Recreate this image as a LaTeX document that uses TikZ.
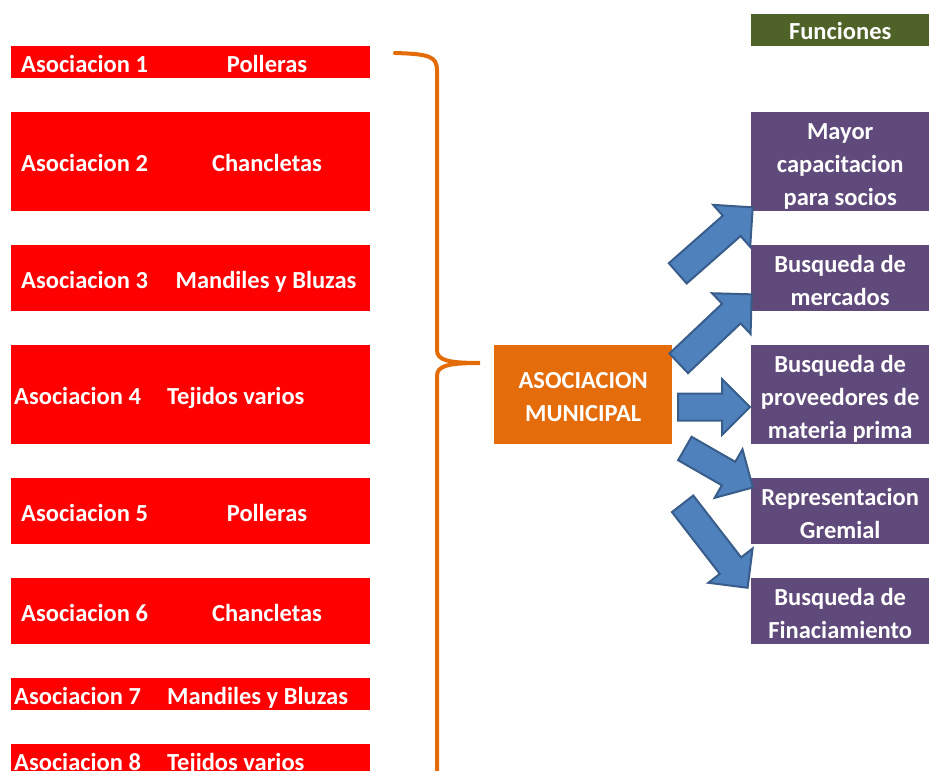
\documentclass[tikz,border=0pt]{standalone}
\usepackage{fontspec}
\setmainfont{Carlito}
\usepackage{xcolor}
\usetikzlibrary{shapes.arrows, calc, positioning}

\definecolor{celdared}{HTML}{FF0000}
\definecolor{municipal}{HTML}{E46C0A}
\definecolor{llave}{HTML}{E36C09}
\definecolor{funcion}{HTML}{604A7B}
\definecolor{titulo}{HTML}{4F6228}
\definecolor{flecha}{HTML}{4F81BD}
\definecolor{flechaborde}{HTML}{385D8A}

% flecha gruesa de una coordenada a otra
\newcommand{\flechagruesa}[2]{%
  \path let \p1=(#1), \p2=(#2), \n1={atan2(\y2-\y1,\x2-\x1)}, \n2={veclen(\x2-\x1,\y2-\y1)} in
    node[gruesa, anchor=tail, minimum height=\n2, rotate=\n1] at (#1) {};}

\begin{document}
\begin{tikzpicture}[
    x=1pt, y=-1pt,
    font=\fontsize{24.5}{33}\selectfont\bfseries,
    celda/.style={rectangle, anchor=north west, inner sep=0pt, minimum width=359pt, fill=celdared},
    texto/.style={text=white, inner sep=0pt, text height=20pt, text depth=0pt},
    func/.style={rectangle, anchor=north west, inner sep=0pt, minimum width=178pt, fill=funcion, text=white, align=center,
        text depth=0pt, text height=21pt},
    dos/.style={text height=54pt},
    tres/.style={text height=87pt},
    gruesa/.style={single arrow, draw=flechaborde, fill=flecha, line width=2pt, inner xsep=0pt, inner ysep=12.5pt,
        single arrow head extend=14.5pt, single arrow head indent=0pt},
    llavestyle/.style={draw=llave, line width=4pt, line cap=round}
]
    \clip (0,0) rectangle (929,771);

    % Asociaciones
    \node [celda, minimum height=32pt] (a1) at (11,46) {};
    \node [texto, anchor=west] (a1n) at ([xshift=10pt]a1.west) {Asociacion 1};
    \node [texto] (a1p) at ([xshift=256pt]a1.west) {Polleras};

    \node [celda, minimum height=99pt] (a2) at (11,112) {};
    \node [texto, anchor=west] (a2n) at ([xshift=10pt]a2.west) {Asociacion 2};
    \node [texto] (a2p) at ([xshift=256pt]a2.west) {Chancletas};

    \node [celda, minimum height=66pt] (a3) at (11,245) {};
    \node [texto, anchor=west] (a3n) at ([xshift=10pt]a3.west) {Asociacion 3};
    \node [texto] (a3p) at ([xshift=255pt]a3.west) {Mandiles y Bluzas};

    \node [celda, minimum height=99pt] (a4) at (11,345) {};
    \node [texto, anchor=west] (a4n) at ([xshift=3pt]a4.west) {Asociacion 4};
    \node [texto, anchor=west] (a4p) at ([xshift=156pt]a4.west) {Tejidos varios};

    \node [celda, minimum height=66pt] (a5) at (11,478) {};
    \node [texto, anchor=west] (a5n) at ([xshift=10pt]a5.west) {Asociacion 5};
    \node [texto] (a5p) at ([xshift=256pt]a5.west) {Polleras};

    \node [celda, minimum height=66pt] (a6) at (11,578) {};
    \node [texto, anchor=west] (a6n) at ([xshift=10pt]a6.west) {Asociacion 6};
    \node [texto] (a6p) at ([xshift=256pt]a6.west) {Chancletas};

    \node [celda, minimum height=32pt] (a7) at (11,678) {};
    \node [texto, anchor=west] (a7n) at ([xshift=3pt]a7.west) {Asociacion 7};
    \node [texto, anchor=west] (a7p) at ([xshift=156pt]a7.west) {Mandiles y Bluzas};

    \node [celda, minimum height=66pt] (a8) at (11,744) {};
    \node [texto, anchor=west] (a8n) at ([xshift=3pt, yshift=-16pt]a8.north west) {Asociacion 8};
    \node [texto, anchor=west] (a8p) at ([xshift=156pt, yshift=-16pt]a8.north west) {Tejidos varios};

    % Llave
    \draw [llavestyle] (395,53) .. controls (428,54) and (437,56) .. (437,70) -- (437,350)
        .. controls (437,360) and (447,363) .. (480,363)
        .. controls (447,363) and (437,366) .. (437,376) -- (437,800);

    % Asociacion municipal
    \node [func, dos, fill=municipal, minimum height=99pt] (mun) at (494,345) {ASOCIACION\\MUNICIPAL};

    % Funciones
    \node [func, fill=titulo, minimum height=32pt, text height=19pt] (tit) at (751,14) {Funciones};
    \node [func, tres, minimum height=99pt] (f1) at (751,112) {Mayor\\capacitacion\\para socios};
    \node [func, dos, minimum height=66pt] (f2) at (751,245) {Busqueda de\\mercados};
    \node [func, tres, minimum height=99pt] (f3) at (751,345) {Busqueda de\\proveedores de\\materia prima};
    \node [func, dos, minimum height=66pt] (f4) at (751,478) {Representacion\\Gremial};
    \node [func, dos, minimum height=66pt] (f5) at (751,578) {Busqueda de\\Finaciamiento};

    % Flechas
    \coordinate (t1) at (677,274); \coordinate (p1) at (752,208);
    \coordinate (t2) at (678,364); \coordinate (p2) at (751,295);
    \coordinate (t3) at (677,407); \coordinate (p3) at (749,407);
    \coordinate (t4) at (684,448); \coordinate (p4) at (752,487);
    \coordinate (t5) at (682,503); \coordinate (p5) at (747,587);
    \flechagruesa{t1}{p1}
    \flechagruesa{t2}{p2}
    \flechagruesa{t3}{p3}
    \flechagruesa{t4}{p4}
    \flechagruesa{t5}{p5}
\end{tikzpicture}
\end{document}
